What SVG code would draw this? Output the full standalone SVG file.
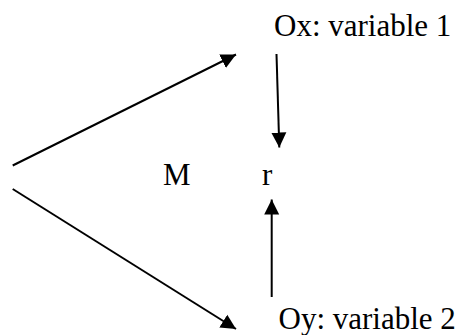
<svg xmlns="http://www.w3.org/2000/svg" width="462" height="335" viewBox="0 0 462 335">
<style>
  .lbl { font-family: "Liberation Serif", "Times New Roman", serif; font-size: 31px; fill: #000; }
  .edge { stroke: #000; stroke-width: 2; fill: none; marker-end: url(#arrow); }
</style>
<defs>
  <marker id="arrow" markerUnits="userSpaceOnUse" markerWidth="16" markerHeight="16" viewBox="0 0 16 16" refX="15" refY="8" orient="auto">
    <path d="M0,0.5 L15,8 L0,15.5 z" fill="#000"/>
  </marker>
</defs>
<rect width="462" height="335" fill="#fff"/>
<g id="connectors">
  <line class="edge" x1="12.7" y1="165.5" x2="236" y2="54.5"/>
  <line class="edge" x1="12.7" y1="189" x2="236" y2="329"/>
  <line class="edge" x1="276.5" y1="54" x2="279.3" y2="147.5"/>
  <line class="edge" x1="271.7" y1="297" x2="271.7" y2="199.5"/>
</g>
<g id="node-ox"><text class="lbl" x="274" y="35.5">Ox: variable 1</text></g>
<g id="node-oy"><text class="lbl" x="278.5" y="329">Oy: variable 2</text></g>
<g id="node-m"><text class="lbl" x="163" y="184.5">M</text></g>
<g id="node-r"><text class="lbl" x="262" y="184.5">r</text></g>
</svg>
